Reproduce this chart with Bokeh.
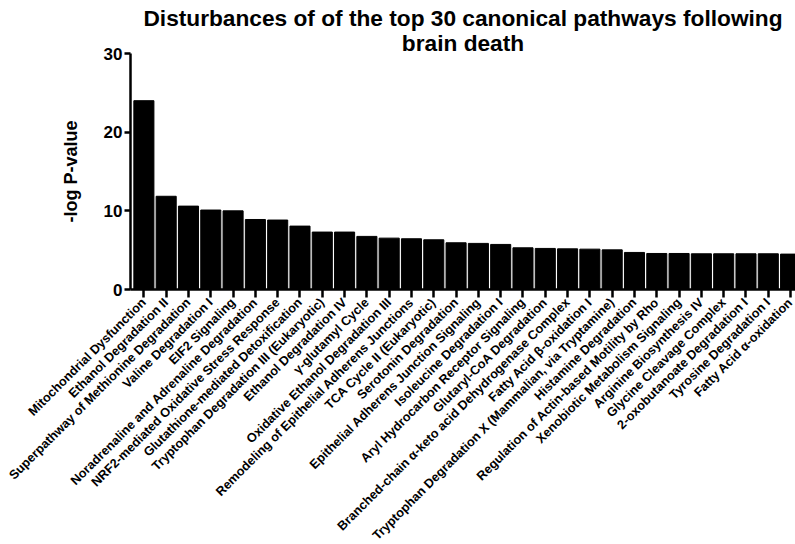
from bokeh.plotting import figure
from bokeh.models import Range1d, FixedTicker, Title
from bokeh.embed import file_html
from bokeh.resources import INLINE

pathways = [
    "Mitochondrial Dysfunction",
    "Ethanol Degradation II",
    "Superpathway of Methionine Degradation",
    "Valine Degradation I",
    "EIF2 Signaling",
    "Noradrenaline and Adrenaline Degradation",
    "NRF2-mediated Oxidative Stress Response",
    "Glutathione-mediated Detoxification",
    "Tryptophan Degradation III (Eukaryotic)",
    "Ethanol Degradation IV",
    "γ-glutamyl Cycle",
    "Oxidative Ethanol Degradation III",
    "Remodeling of Epithelial Adherens Junctions",
    "TCA Cycle II (Eukaryotic)",
    "Serotonin Degradation",
    "Epithelial Adherens Junction Signaling",
    "Isoleucine Degradation I",
    "Aryl Hydrocarbon Receptor Signaling",
    "Glutaryl-CoA Degradation",
    "Branched-chain α-keto acid Dehydrogenase Complex",
    "Fatty Acid β-oxidation I",
    "Tryptophan Degradation X (Mammalian, via Tryptamine)",
    "Histamine Degradation",
    "Regulation of Actin-based Motility by Rho",
    "Xenobiotic Metabolism Signaling",
    "Arginine Biosynthesis IV",
    "Glycine Cleavage Complex",
    "2-oxobutanoate Degradation I",
    "Tyrosine Degradation I",
    "Fatty Acid α-oxidation",
]
neg_log_p = [24.0, 11.85, 10.6, 10.1, 10.0, 8.9, 8.83, 8.06, 7.3, 7.3,
             6.75, 6.53, 6.45, 6.32, 5.94, 5.86, 5.73, 5.3, 5.22, 5.17,
             5.13, 5.04, 4.71, 4.58, 4.58, 4.54, 4.54, 4.54, 4.54, 4.5]
y_ticks = [0, 10, 20, 30]
title_lines = ["Disturbances of of the top 30 canonical pathways following", "brain death"]
y_label = "-log P-value"

FONT = "Liberation Sans"
positions = list(range(1, len(pathways) + 1))

p = figure(frame_width=665, frame_height=236, output_backend="svg",
           toolbar_location=None, x_range=Range1d(0.4, 30.22),
           y_range=Range1d(0, 30), min_border_left=130, min_border_right=0,
           min_border_top=53, min_border_bottom=0)
p.outline_line_color = None
p.xgrid.visible = False
p.ygrid.visible = False

# two centred title lines; first added sits nearest the frame
for txt, so in zip(reversed(title_lines), [-5, -1]):
    p.add_layout(Title(text=txt, align="center", text_font=FONT,
                       text_font_style="bold", text_font_size="22.7px",
                       text_color="black", text_line_height=1.0,
                       standoff=so, offset=8), "above")

p.vbar(x=positions, top=neg_log_p, width=0.9, bottom=0,
       fill_color="black", line_color="black")

# y axis
ya = p.yaxis[0]
ya.ticker = FixedTicker(ticks=y_ticks)
ya.minor_tick_line_color = None
ya.major_tick_in = 0
ya.major_tick_out = 6
ya.major_tick_line_width = 2.5
ya.axis_line_width = 2.5
ya.major_label_text_font = FONT
ya.major_label_text_font_style = "bold"
ya.major_label_text_font_size = "17px"
ya.major_label_text_color = "black"
ya.major_label_standoff = 2
ya.axis_label = y_label
ya.axis_label_text_font = FONT
ya.axis_label_text_font_style = "bold"
ya.axis_label_text_font_size = "18px"
ya.axis_label_text_color = "black"
ya.axis_label_standoff = 20

# x axis
xa = p.xaxis[0]
xa.ticker = FixedTicker(ticks=positions)
xa.major_label_overrides = {i: name for i, name in zip(positions, pathways)}
xa.major_label_orientation = 0.785398
xa.minor_tick_line_color = None
xa.major_tick_in = 0
xa.major_tick_out = 8
xa.major_tick_line_width = 2.5
xa.axis_line_width = 2.5
xa.major_label_text_font = FONT
xa.major_label_text_font_style = "bold"
xa.major_label_text_font_size = "12.7px"
xa.major_label_text_color = "black"
xa.major_label_standoff = 3

open("out.html", "w").write(file_html(p, INLINE))
